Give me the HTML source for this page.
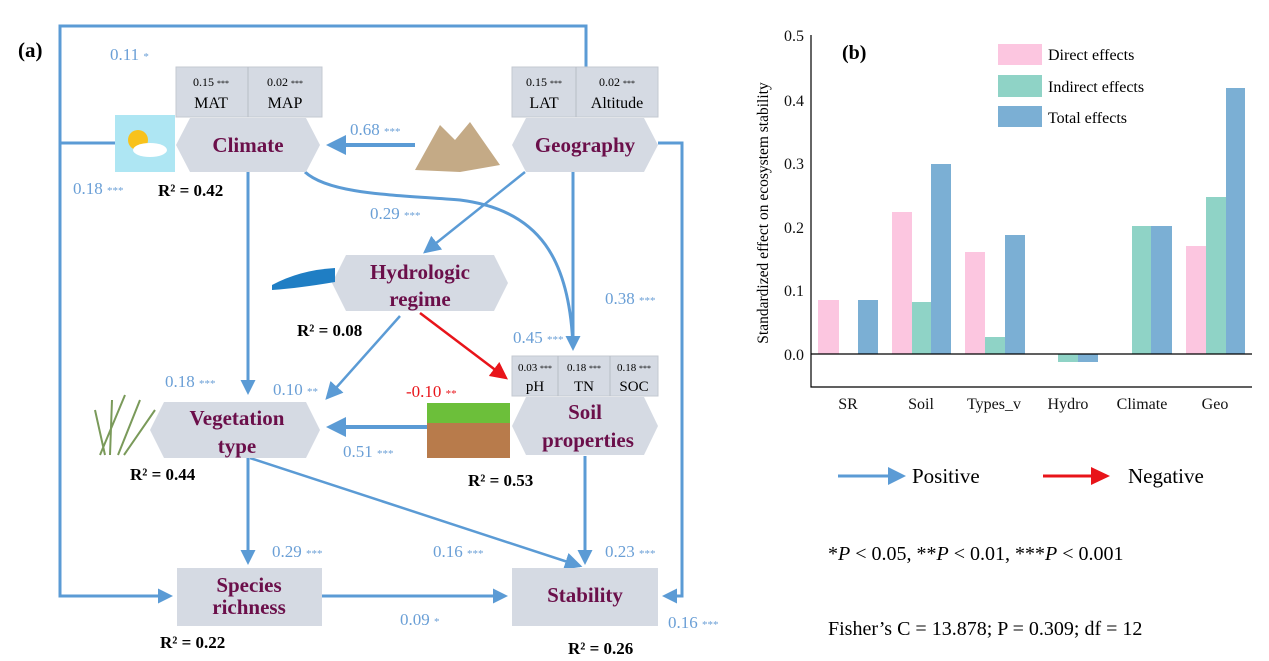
<!DOCTYPE html>
<html><head><meta charset="utf-8"><style>
html,body{margin:0;padding:0;background:#fff}
svg{display:block}
text{font-family:"Liberation Serif",serif}
.c{fill:#6a9fd6;font-size:17px}
.s{font-size:11px}
.lab{fill:#6b0f4a;font-weight:bold;font-size:21px;text-anchor:middle}
.r2{font-weight:bold;font-size:17px;fill:#000}
.box{fill:#d5dae3;stroke:#c4c9d2;stroke-width:1}
.ln{stroke:#5b9bd5;fill:none}
.bt{font-size:16px;text-anchor:middle;fill:#111}
</style></head><body>
<svg width="1269" height="661" viewBox="0 0 1269 661" xmlns="http://www.w3.org/2000/svg">
<defs>
<marker id="ab" markerWidth="5" markerHeight="5" refX="4" refY="2.5" orient="auto" markerUnits="strokeWidth"><path d="M0,0 L5,2.5 L0,5 z" fill="#5b9bd5"/></marker>
<marker id="ab2" markerWidth="7" markerHeight="7" refX="6" refY="3.5" orient="auto" markerUnits="strokeWidth"><path d="M0,0 L7,3.5 L0,7 z" fill="#5b9bd5"/></marker>
<marker id="ar" markerWidth="7" markerHeight="7" refX="6" refY="3.5" orient="auto" markerUnits="strokeWidth"><path d="M0,0 L7,3.5 L0,7 z" fill="#e8141a"/></marker>
</defs>
<path class="ln" stroke-width="3" d="M586,67 V26 H60 V596 H170" marker-end="url(#ab)"/>
<path class="ln" stroke-width="3" d="M60,143 H115"/>
<path class="ln" stroke-width="3" d="M658,143 H682 V596 H665" marker-end="url(#ab)"/>
<path class="ln" stroke-width="4" d="M415,145 H330" marker-end="url(#ab)"/>
<path class="ln" stroke-width="3" d="M573,172 V348" marker-end="url(#ab)"/>
<path class="ln" stroke-width="3" d="M305,172 C330,195 400,195 460,200 C540,210 570,260 573,348" />
<path class="ln" stroke-width="2.5" d="M525,172 L425,252" marker-end="url(#ab2)"/>
<path class="ln" stroke-width="2.5" d="M400,316 L327,398" marker-end="url(#ab2)"/>
<path stroke="#e8141a" stroke-width="2.5" fill="none" d="M420,313 L506,378" marker-end="url(#ar)"/>
<path class="ln" stroke-width="4" d="M427,427 H330" marker-end="url(#ab)"/>
<path class="ln" stroke-width="3" d="M248,172 V392" marker-end="url(#ab)"/>
<path class="ln" stroke-width="3" d="M248,458 V562" marker-end="url(#ab)"/>
<path class="ln" stroke-width="2.5" d="M250,458 L580,566" marker-end="url(#ab2)"/>
<path class="ln" stroke-width="3" d="M585,456 V562" marker-end="url(#ab)"/>
<path class="ln" stroke-width="3" d="M322,596 H505" marker-end="url(#ab)"/>
<rect class="box" x="176" y="67" width="146" height="50"/><line x1="248" y1="67" x2="248" y2="117" stroke="#b8bdc6"/>
<rect class="box" x="512" y="67" width="146" height="50"/><line x1="576" y1="67" x2="576" y2="117" stroke="#b8bdc6"/>
<rect class="box" x="512" y="356" width="146" height="40"/><line x1="558" y1="356" x2="558" y2="396" stroke="#b8bdc6"/><line x1="610" y1="356" x2="610" y2="396" stroke="#b8bdc6"/>
<polygon fill="#d5dae3" points="190,118 306,118 320,145 306,172 190,172 176,145"/>
<polygon fill="#d5dae3" points="526,118 644,118 658,145 644,172 526,172 512,145"/>
<polygon fill="#d5dae3" points="346,255 494,255 508,283 494,311 346,311 332,283"/>
<polygon fill="#d5dae3" points="164,402 306,402 320,430 306,458 164,458 150,430"/>
<polygon fill="#d5dae3" points="526,397 644,397 658,426 644,455 526,455 512,426"/>
<rect fill="#d5dae3" x="177" y="568" width="145" height="58"/>
<rect fill="#d5dae3" x="512" y="568" width="146" height="58"/>
<rect x="115" y="115" width="60" height="57" fill="#aee6f3"/>
<circle cx="138" cy="140" r="10" fill="#f8c21c"/>
<ellipse cx="150" cy="150" rx="17" ry="7" fill="#fff"/>
<polygon points="415,170 440,125 455,140 470,122 500,165 460,172" fill="#c4aa86"/>
<path d="M272,285 Q300,270 335,268 L335,282 Q300,288 272,290z" fill="#1f7ec4"/>
<rect x="427" y="403" width="83" height="20" fill="#6cbf3a"/>
<rect x="427" y="423" width="83" height="35" fill="#b87b4b"/>
<path d="M100,455 L125,395 M110,455 L112,400 M118,455 L140,400 M124,455 L155,410 M105,455 L95,410" stroke="#7a9a5a" stroke-width="2" fill="none"/>
<text x="18" y="57" font-size="21" font-weight="bold">(a)</text>
<text class="c" x="110" y="60">0.11 <tspan class="s">*</tspan></text>
<text x="211" y="86" font-size="12" text-anchor="middle">0.15 <tspan font-size="8">***</tspan></text>
<text x="211" y="108" font-size="16" text-anchor="middle">MAT</text>
<text x="285" y="86" font-size="12" text-anchor="middle">0.02 <tspan font-size="8">***</tspan></text>
<text x="285" y="108" font-size="16" text-anchor="middle">MAP</text>
<text x="544" y="86" font-size="12" text-anchor="middle">0.15 <tspan font-size="8">***</tspan></text>
<text x="544" y="108" font-size="16" text-anchor="middle">LAT</text>
<text x="617" y="86" font-size="12" text-anchor="middle">0.02 <tspan font-size="8">***</tspan></text>
<text x="617" y="108" font-size="16" text-anchor="middle">Altitude</text>
<text x="535" y="371" font-size="11" text-anchor="middle">0.03 <tspan font-size="8">***</tspan></text>
<text x="535" y="391" font-size="15" text-anchor="middle">pH</text>
<text x="584" y="371" font-size="11" text-anchor="middle">0.18 <tspan font-size="8">***</tspan></text>
<text x="584" y="391" font-size="15" text-anchor="middle">TN</text>
<text x="634" y="371" font-size="11" text-anchor="middle">0.18 <tspan font-size="8">***</tspan></text>
<text x="634" y="391" font-size="15" text-anchor="middle">SOC</text>
<text class="lab" x="248" y="152">Climate</text>
<text class="lab" x="585" y="152">Geography</text>
<text class="lab" x="420" y="279">Hydrologic</text>
<text class="lab" x="420" y="306">regime</text>
<text class="lab" x="237" y="425">Vegetation</text>
<text class="lab" x="237" y="453">type</text>
<text class="lab" x="585" y="419">Soil</text>
<text class="lab" x="588" y="447">properties</text>
<text class="lab" x="249" y="592" font-size="17">Species</text>
<text class="lab" x="249" y="614" font-size="17">richness</text>
<text class="lab" x="585" y="602" font-size="17">Stability</text>
<text class="c" x="350" y="135">0.68 <tspan class="s">***</tspan></text>
<text class="c" x="73" y="194">0.18 <tspan class="s">***</tspan></text>
<text class="r2" x="158" y="196">R² = 0.42</text>
<text class="c" x="370" y="219">0.29 <tspan class="s">***</tspan></text>
<text class="c" x="605" y="304">0.38 <tspan class="s">***</tspan></text>
<text class="r2" x="297" y="336">R² = 0.08</text>
<text class="c" x="513" y="343">0.45 <tspan class="s">***</tspan></text>
<text class="c" x="165" y="387">0.18 <tspan class="s">***</tspan></text>
<text class="c" x="273" y="395">0.10 <tspan class="s">**</tspan></text>
<text x="406" y="397" font-size="17" fill="#e8141a">-0.10 <tspan class="s">**</tspan></text>
<text class="c" x="343" y="457">0.51 <tspan class="s">***</tspan></text>
<text class="r2" x="130" y="480">R² = 0.44</text>
<text class="r2" x="468" y="486">R² = 0.53</text>
<text class="c" x="272" y="557">0.29 <tspan class="s">***</tspan></text>
<text class="c" x="433" y="557">0.16 <tspan class="s">***</tspan></text>
<text class="c" x="605" y="557">0.23 <tspan class="s">***</tspan></text>
<text class="c" x="400" y="625">0.09 <tspan class="s">*</tspan></text>
<text class="c" x="668" y="628">0.16 <tspan class="s">***</tspan></text>
<text class="r2" x="160" y="648">R² = 0.22</text>
<text class="r2" x="568" y="654">R² = 0.26</text>
<rect x="998" y="44" width="44" height="21" fill="#fcc6e0"/>
<rect x="998" y="75" width="44" height="22" fill="#8fd3c6"/>
<rect x="998" y="106" width="44" height="21" fill="#7bafd4"/>
<text x="1048" y="60" font-size="16">Direct effects</text>
<text x="1048" y="92" font-size="16">Indirect effects</text>
<text x="1048" y="123" font-size="16">Total effects</text>
<text x="842" y="59" font-size="20" font-weight="bold">(b)</text>
<g fill="#fcc6e0"><rect x="818" y="300" width="21" height="54"/><rect x="892" y="212" width="20" height="142"/><rect x="965" y="252" width="20" height="102"/><rect x="1186" y="246" width="20" height="108"/></g>
<g fill="#8fd3c6"><rect x="912" y="302" width="19" height="52"/><rect x="985" y="337" width="20" height="17"/><rect x="1058" y="354" width="20" height="8"/><rect x="1132" y="226" width="19" height="128"/><rect x="1206" y="197" width="20" height="157"/></g>
<g fill="#7bafd4"><rect x="858" y="300" width="20" height="54"/><rect x="931" y="164" width="20" height="190"/><rect x="1005" y="235" width="20" height="119"/><rect x="1078" y="354" width="20" height="8"/><rect x="1151" y="226" width="21" height="128"/><rect x="1226" y="88" width="19" height="266"/></g>
<path d="M811,35 V387 H1252 M811,354 H1252" stroke="#000" stroke-width="1.2" fill="none"/>
<g font-size="16" text-anchor="end" fill="#111"><text x="804" y="41">0.5</text><text x="804" y="106">0.4</text><text x="804" y="169">0.3</text><text x="804" y="233">0.2</text><text x="804" y="296">0.1</text><text x="804" y="360">0.0</text></g>
<g><text class="bt" x="848" y="409">SR</text><text class="bt" x="921" y="409">Soil</text><text class="bt" x="994" y="409">Types_v</text><text class="bt" x="1068" y="409">Hydro</text><text class="bt" x="1142" y="409">Climate</text><text class="bt" x="1215" y="409">Geo</text></g>
<text transform="translate(768,213) rotate(-90)" font-size="15.5" text-anchor="middle">Standardized effect on ecosystem stability</text>
<path d="M838,476 H890" stroke="#5b9bd5" stroke-width="3"/><polygon points="888,467 906,476 888,485" fill="#5b9bd5"/>
<text x="912" y="483" font-size="21">Positive</text>
<path d="M1043,476 H1093" stroke="#e8141a" stroke-width="3"/><polygon points="1091,467 1110,476 1091,485" fill="#e8141a"/>
<text x="1128" y="483" font-size="21">Negative</text>
<text x="828" y="560" font-size="20">*<tspan font-style="italic">P</tspan> &lt; 0.05, **<tspan font-style="italic">P</tspan> &lt; 0.01, ***<tspan font-style="italic">P</tspan> &lt; 0.001</text>
<text x="828" y="635" font-size="20">Fisher’s C = 13.878; P = 0.309; df = 12</text>
</svg>
</body></html>
